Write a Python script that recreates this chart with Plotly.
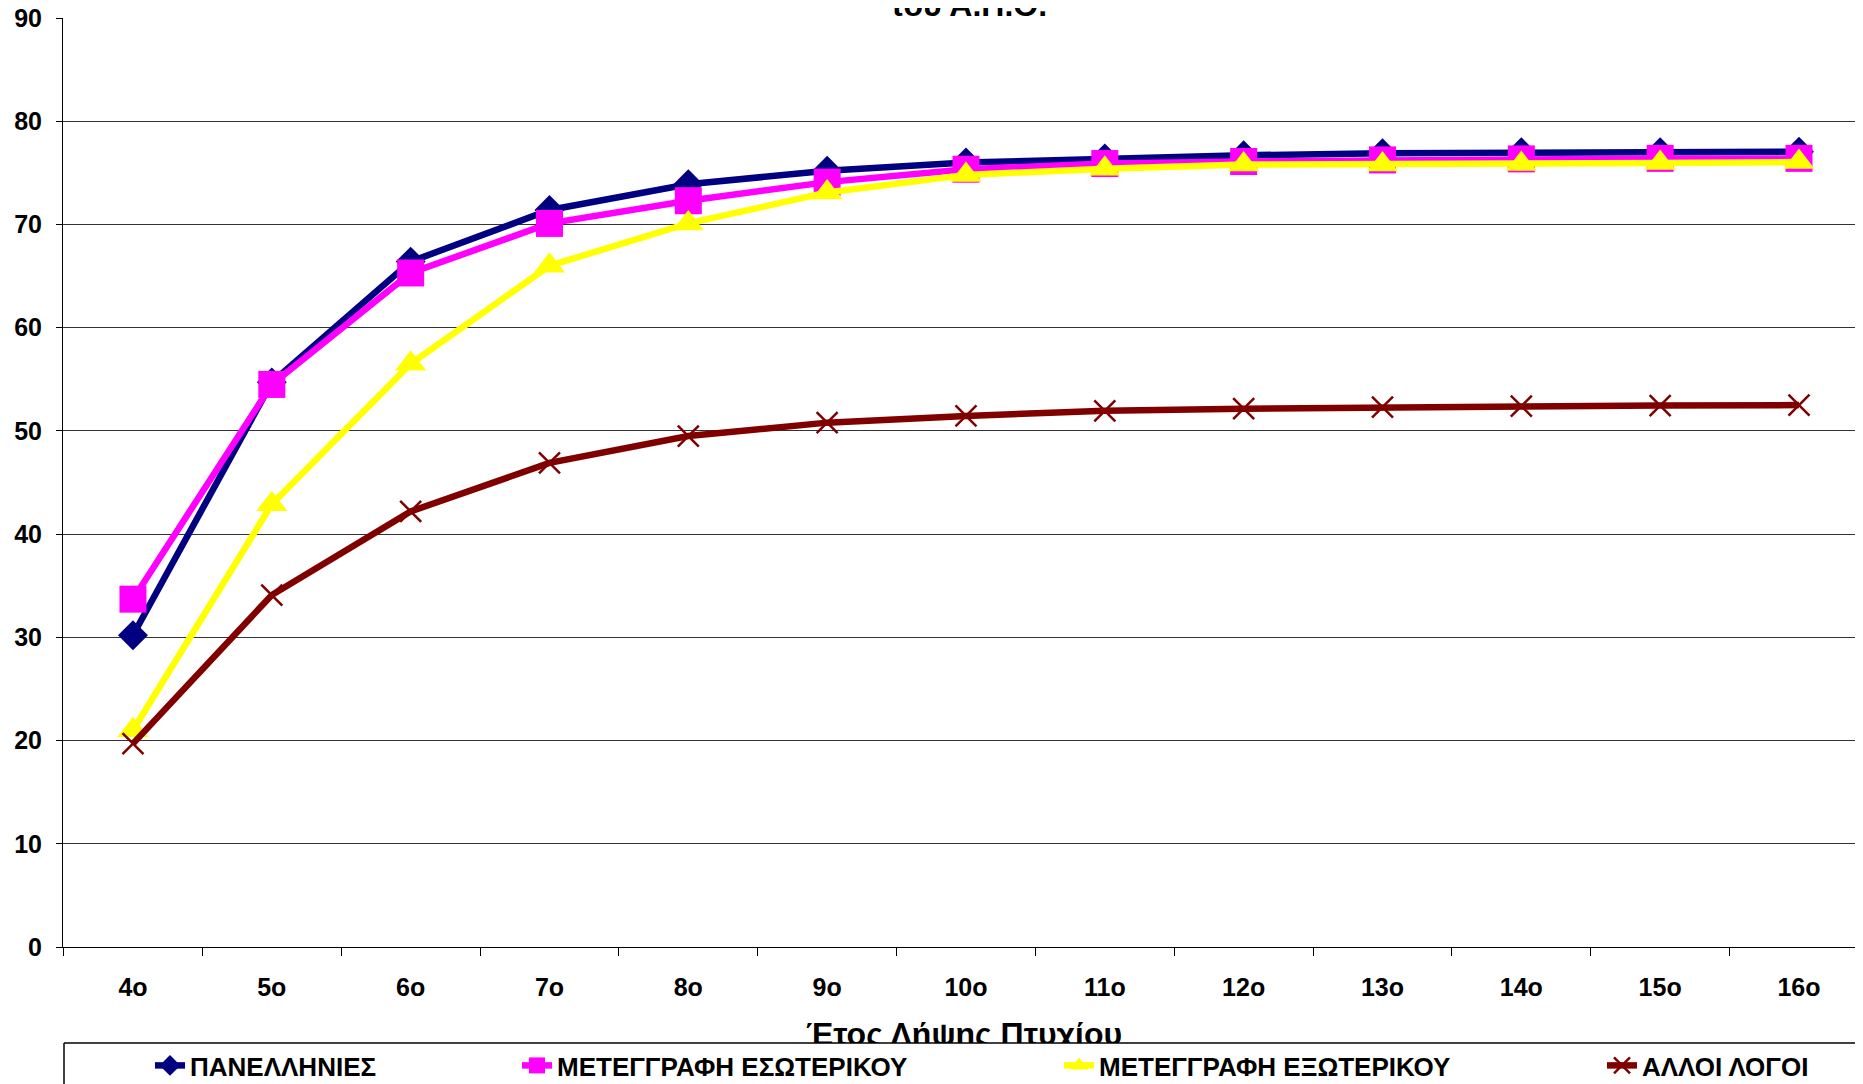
import plotly.graph_objects as go

categories = ["4o", "5o", "6o", "7o", "8o", "9o", "10o", "11o", "12o", "13o", "14o", "15o", "16o"]
panellinies = [30.2, 54.7, 66.4, 71.4, 73.9, 75.2, 76.0, 76.4, 76.7, 76.9, 77.0, 77.0, 77.05]
metegrafi_esoterikou = [33.7, 54.5, 65.3, 70.1, 72.3, 74.1, 75.35, 75.9, 76.1, 76.25, 76.35, 76.4, 76.4]
metegrafi_exoterikou = [21.0, 42.9, 56.5, 66.0, 70.1, 73.1, 74.8, 75.4, 75.8, 75.8, 75.85, 75.95, 76.05]
alloi_logoi = [19.7, 34.1, 42.2, 46.9, 49.5, 50.8, 51.45, 51.95, 52.15, 52.3, 52.4, 52.45, 52.5]

series_names = ["ΠΑΝΕΛΛΗΝΙΕΣ", "ΜΕΤΕΓΓΡΑΦΗ ΕΣΩΤΕΡΙΚΟΥ", "ΜΕΤΕΓΓΡΑΦΗ ΕΞΩΤΕΡΙΚΟΥ", "ΑΛΛΟΙ ΛΟΓΟΙ"]
y_ticks = [0, 10, 20, 30, 40, 50, 60, 70, 80, 90]
x_title = "Έτος Λήψης Πτυχίου"
chart_title = "του Α.Π.Θ."

FONT = "Arial, 'Liberation Sans', sans-serif"

# page has an 8px body margin; figure sized to end exactly at the window edge
OFF = 8
W, H = 1863 - OFF, 1084 - OFF
ML, MR, MT, MB = 63 - OFF, 0, 18 - OFF, 0
PW = W - ML - MR
PH = H - MT - MB
PAGE_TOP = MT + OFF          # 18
PAGE_BOTTOM = H - MB + OFF   # 1084


def px_x(page_x):
    return (page_x - OFF - ML) / PW


def px_y(page_y):
    return (PAGE_BOTTOM - page_y) / PH


MAIN_BOTTOM = 947       # page y of value 0
TITLE_TOP, TITLE_BOTTOM = 990, 1043   # clip band for the x-axis title

fig = go.Figure()

styles = [
    dict(color="#000080", symbol="diamond", size=23, legend="legend"),
    dict(color="#FF00FF", symbol="square", size=27, legend="legend2"),
    dict(color="#FFFF00", symbol="triangle-up", size=27, legend="legend3"),
    dict(color="#800000", symbol="x-thin", size=21, legend="legend4"),
]
data = [panellinies, metegrafi_esoterikou, metegrafi_exoterikou, alloi_logoi]

for name, vals, st in zip(series_names, data, styles):
    marker = dict(symbol=st["symbol"], size=st["size"], color=st["color"])
    if st["symbol"] == "x-thin":
        marker["line"] = dict(color=st["color"], width=2.5)
    fig.add_trace(go.Scatter(
        x=categories, y=vals, name=name, mode="lines+markers",
        line=dict(color=st["color"], width=6.5),
        marker=marker, legend=st["legend"], cliponaxis=False,
    ))

# x-axis title, drawn in its own band so its lower part is cut by the legend box edge
title_cx = (964 - 63) / 1800
title_cy = (TITLE_BOTTOM - 1037) / (TITLE_BOTTOM - TITLE_TOP)
fig.add_trace(go.Scatter(
    x=[title_cx], y=[title_cy], mode="text", text=[x_title],
    textposition="middle center", xaxis="x2", yaxis="y2",
    textfont=dict(family=FONT, size=32, color="black", weight="bold"),
    showlegend=False, hoverinfo="skip", cliponaxis=True,
))

# legend boxes (page px): left edge = text start - 40
leg_px = [150, 517, 1059, 1602]
entry_w = [330, 500, 500, 240]
leg_font = dict(family=FONT, size=26, color="black", weight="bold")
leg_top = 1042
legends = {}
for i, (lx, ew) in enumerate(zip(leg_px, entry_w)):
    key = "legend" if i == 0 else f"legend{i+1}"
    legends[key] = dict(
        x=px_x(lx), xanchor="left", y=px_y(leg_top), yanchor="top",
        orientation="h", bgcolor="rgba(0,0,0,0)", borderwidth=0,
        font=leg_font, entrywidth=ew, entrywidthmode="pixels",
        itemsizing="trace",
    )

fig.update_layout(
    width=W, height=H,
    margin=dict(l=ML, r=MR, t=MT, b=MB, autoexpand=False),
    paper_bgcolor="white", plot_bgcolor="white",
    font=dict(family=FONT, color="black"),
    showlegend=True,
    xaxis=dict(
        type="category", range=[-0.504, 12.461], anchor="y",
        showgrid=False, showline=True, linecolor="black", linewidth=1,
        ticks="outside", ticklen=8, tickcolor="black", tickson="boundaries",
        tickfont=dict(family=FONT, size=25, color="black", weight="bold"),
        ticklabelstandoff=18, automargin=False, zeroline=False,
    ),
    yaxis=dict(
        domain=[px_y(MAIN_BOTTOM), 1], range=[0, 90], tickvals=y_ticks,
        showgrid=True, gridcolor="#333333", gridwidth=1,
        showline=True, linecolor="black", linewidth=1,
        ticks="outside", ticklen=6, tickcolor="black",
        tickfont=dict(family=FONT, size=25, color="black", weight="bold"),
        ticklabelstandoff=9, ticklabeloverflow="allow",
        automargin=False, zeroline=False,
    ),
    xaxis2=dict(domain=[0, 1], range=[0, 1], anchor="y2", visible=False, fixedrange=True),
    yaxis2=dict(domain=[px_y(TITLE_BOTTOM), px_y(TITLE_TOP)], range=[0, 1],
                anchor="x2", visible=False, fixedrange=True),
    annotations=[dict(
        text=chart_title, xref="paper", yref="paper",
        x=px_x(968), y=px_y(25), xanchor="center", yanchor="bottom",
        showarrow=False, font=dict(family=FONT, size=32, color="black", weight="bold"),
    )],
    shapes=[
        dict(type="line", xref="paper", yref="paper", x0=px_x(64), x1=px_x(1870),
             y0=px_y(1043), y1=px_y(1043), line=dict(color="black", width=1.5)),
        dict(type="line", xref="paper", yref="paper", x0=px_x(64), x1=px_x(64),
             y0=px_y(1043), y1=px_y(1090), line=dict(color="black", width=1.5)),
    ],
    **legends,
)

fig.write_html("out.html")
